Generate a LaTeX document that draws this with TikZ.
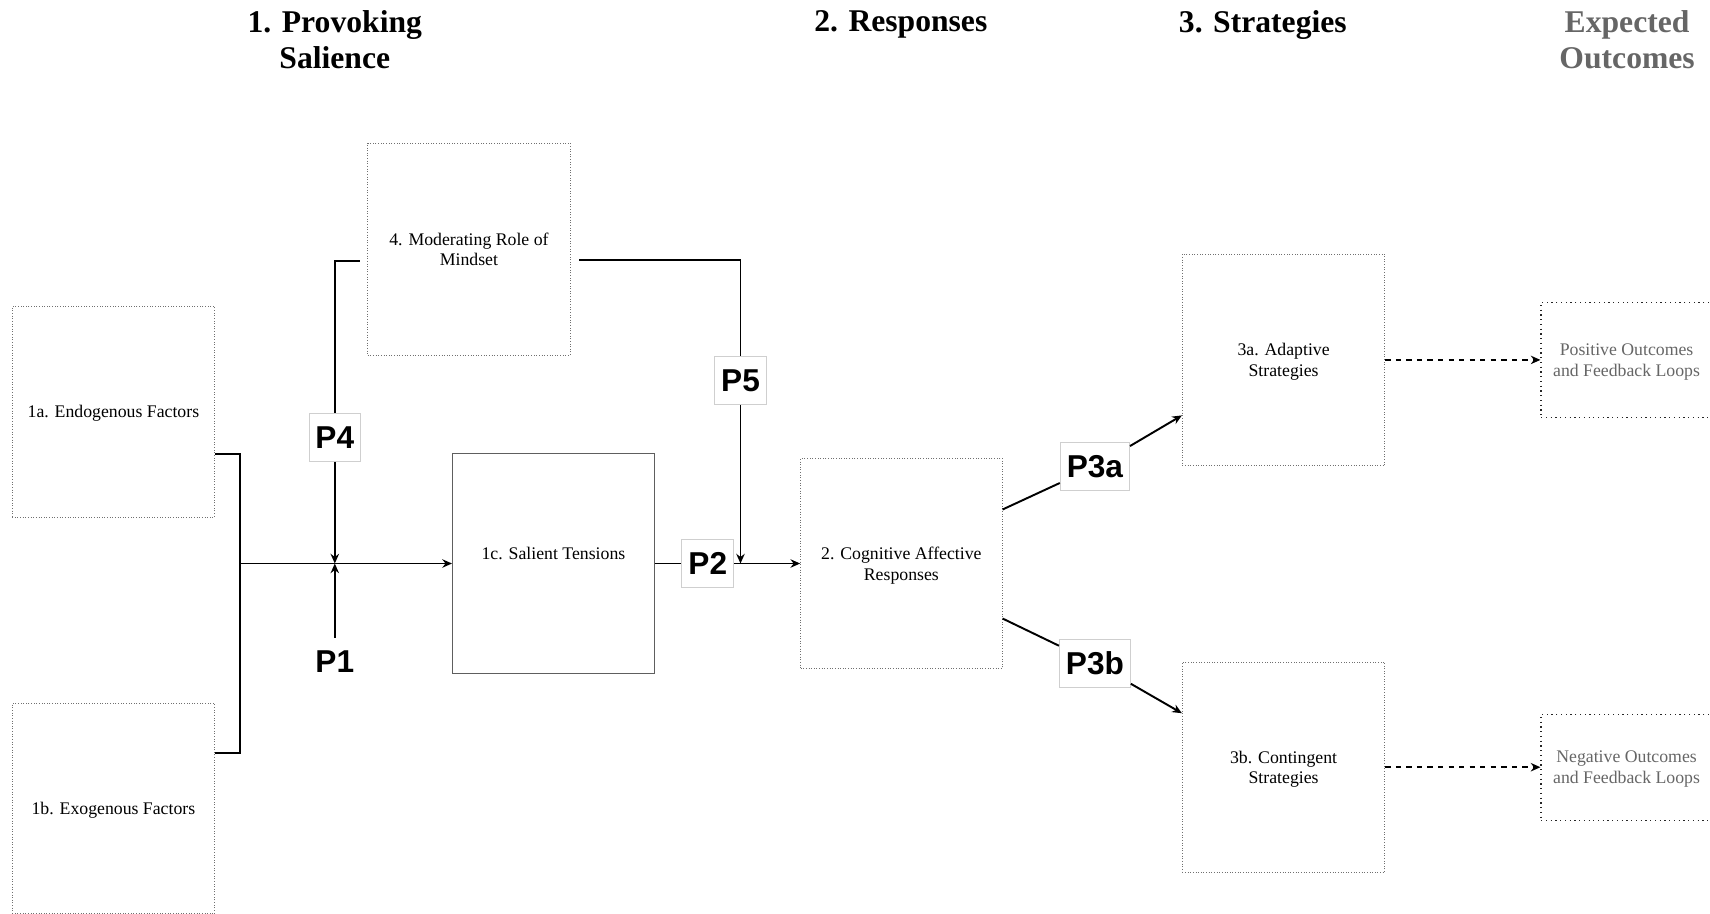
\documentclass[tikz,border=0pt]{standalone}
\usepackage{fontspec}
\setmainfont{Liberation Serif}
\newfontfamily\propfont{Liberation Sans}
\definecolor{mGreyText}{HTML}{666666}
\definecolor{mDotLine}{HTML}{707070}
\definecolor{mSolidLine}{HTML}{5E5E5E}
\definecolor{mLabelLine}{HTML}{CFCFCF}
\usetikzlibrary{positioning,arrows.meta,calc}

\begin{document}
\begin{tikzpicture}[font=\fontsize{10.1}{11.8}\selectfont,
  stagebox/.style={draw=mDotLine, densely dotted, line width=0.5pt, minimum width=4.05cm, minimum height=4.21cm, align=center, text depth=0pt},
  outcomebox/.style={draw=black!85, dotted, line width=0.7pt, minimum width=3.42cm, minimum height=2.31cm, align=center, text depth=0pt, text=mGreyText},
  prop/.style={draw=mLabelLine, fill=white, line width=0.5pt, inner sep=0.13cm, minimum width=1cm, minimum height=0.96cm, font=\propfont\bfseries\fontsize{18}{20}\selectfont},
  header/.style={anchor=north, inner sep=0pt, align=center, font=\bfseries\fontsize{18}{20.5}\selectfont},
  link/.style={line width=1.1pt, -{Stealth[length=5.5pt,width=4.8pt]}}]
\useasboundingbox (0,0) rectangle (34.20,-18.26);
\clip (0,0) rectangle (34.20,-18.26);
\node[header] (hsal) at (6.696,-0.21) {1. Provoking\\Salience};
\node[header] (hres) at (18.016,-0.21) {2. Responses};
\node[header] (hstr) at (25.257,-0.21) {3. Strategies};
\node[header, text=mGreyText] (hout) at (32.542,-0.21) {Expected\\Outcomes};
\node[stagebox] (endo) at (2.268,-8.234) {1a. Endogenous Factors};
\node[stagebox] (exo) at (2.268,-16.173) {1b. Exogenous Factors};
\node[stagebox, minimum height=4.25cm] (mind) at (9.379,-4.984) {4. Moderating Role of\\Mindset};
\node[stagebox, draw=mSolidLine, solid, line width=0.8pt, minimum width=4.03cm, minimum height=4.41cm] (tens) at (11.069,-11.27) {1c. Salient Tensions\\\strut};
\node[stagebox, minimum width=4.03cm] (resp) at (18.027,-11.27) {2. Cognitive Affective\\Responses};
\node[stagebox, minimum height=4.23cm] (adapt) at (25.672,-7.198) {3a. Adaptive\\Strategies};
\node[stagebox] (conti) at (25.672,-15.344) {3b. Contingent\\Strategies};
\node[outcomebox] (posi) at (32.531,-7.198) {Positive Outcomes\\and Feedback Loops};
\node[outcomebox, minimum height=2.12cm] (nega) at (32.531,-15.344) {Negative Outcomes\\and Feedback Loops};
\node[prop] (p4) at (6.696,-8.746) {P4};
\node[prop, draw=none, fill=none] (p1) at (6.696,-13.239) {P1};
\node[prop] (p2) at (14.155,-11.27) {P2};
\node[prop] (p5) at (14.810,-7.612) {P5};
\node[prop] (p3a) at (21.898,-9.335) {P3a};
\node[prop] (p3b) at (21.898,-13.261) {P3b};
\coordinate (hub) at (4.798,-11.27);
\coordinate (j1) at (p4 |- hub);
\coordinate (j5) at (p5 |- hub);
\draw[link, -] ([yshift=-0.84cm]endo.east) -| (hub);
\draw[link, -] ([yshift=1.12cm]exo.east) -| (hub);
\draw[link] (hub) -- (tens.west);
\draw[link, -, shorten <=0.15cm] ([yshift=-0.23cm]mind.west) -| (p4);
\draw[link] (p4) -- (j1);
\draw[link] (p1) -- (j1);
\draw[link, -, shorten <=0.17cm] ([yshift=-0.21cm]mind.east) -| (p5);
\draw[link] (p5) -- (j5);
\draw[link, -] (tens.east) -- (p2);
\draw[link] (p2) -- (resp.west);
\draw[link, -] ([yshift=1.08cm]resp.east) -- (p3a);
\draw[link] (p3a) -- ([yshift=-1.11cm]adapt.west);
\draw[link, -] ([yshift=-1.10cm]resp.east) -- (p3b);
\draw[link] (p3b) -- ([yshift=1.08cm]conti.west);
\draw[link, dashed] (adapt) -- (posi);
\draw[link, dashed] (conti) -- (nega);
\end{tikzpicture}
\end{document}
